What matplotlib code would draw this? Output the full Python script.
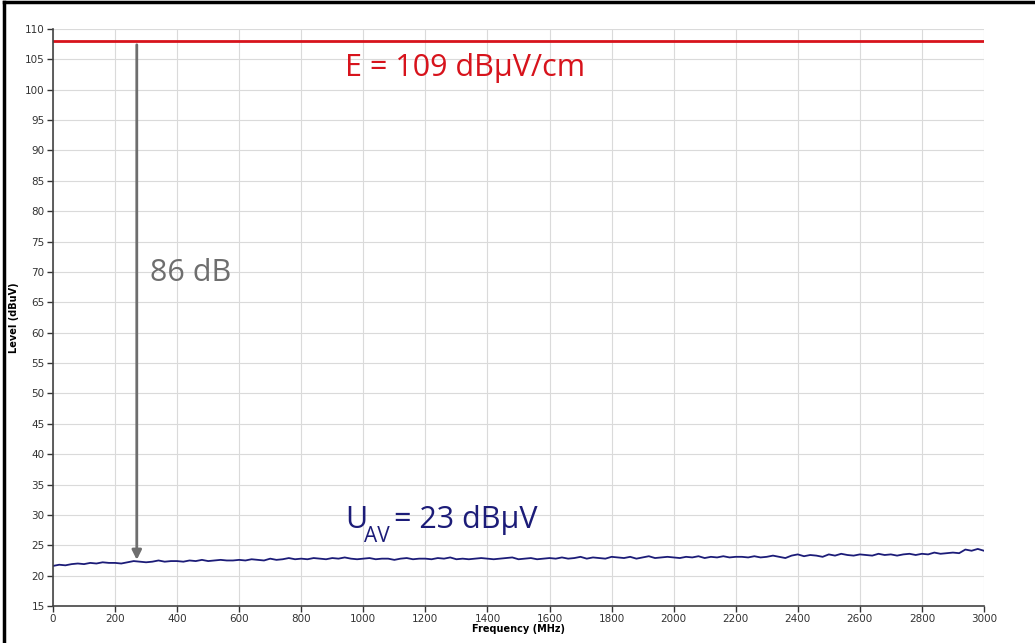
import numpy as np
import matplotlib.pyplot as plt
from matplotlib.lines import Line2D

# ── Data ──────────────────────────────────────────────────────────────────────
FREQ_STEP = 20  # MHz between trace points
trace_level = [
    21.6, 21.8, 21.7, 21.9, 22.0, 21.9, 22.1, 22.0, 22.2, 22.1, 22.1,
    22.0, 22.2, 22.4, 22.3, 22.2, 22.3, 22.5, 22.3, 22.4, 22.4,
    22.3, 22.5, 22.4, 22.6, 22.4, 22.5, 22.6, 22.5, 22.5, 22.6,
    22.5, 22.7, 22.6, 22.5, 22.8, 22.6, 22.7, 22.9, 22.7, 22.8,
    22.7, 22.9, 22.8, 22.7, 22.9, 22.8, 23.0, 22.8, 22.7, 22.8,
    22.9, 22.7, 22.8, 22.8, 22.6, 22.8, 22.9, 22.7, 22.8, 22.8,
    22.7, 22.9, 22.8, 23.0, 22.7, 22.8, 22.7, 22.8, 22.9, 22.8,
    22.7, 22.8, 22.9, 23.0, 22.7, 22.8, 22.9, 22.7, 22.8, 22.9,
    22.8, 23.0, 22.8, 22.9, 23.1, 22.8, 23.0, 22.9, 22.8, 23.1,
    23.0, 22.9, 23.1, 22.8, 23.0, 23.2, 22.9, 23.0, 23.1, 23.0,
    22.9, 23.1, 23.0, 23.2, 22.9, 23.1, 23.0, 23.2, 23.0, 23.1,
    23.1, 23.0, 23.2, 23.0, 23.1, 23.3, 23.1, 22.9, 23.3, 23.5,
    23.2, 23.4, 23.3, 23.1, 23.5, 23.3, 23.6, 23.4, 23.3, 23.5,
    23.4, 23.3, 23.6, 23.4, 23.5, 23.3, 23.5, 23.6, 23.4, 23.6,
    23.5, 23.8, 23.6, 23.7, 23.8, 23.7, 24.3, 24.1, 24.4, 24.1,
]
freqs = np.arange(len(trace_level)) * FREQ_STEP

field_level = 108.0        # red reference line
arrow_freq = 270
arrow_top, arrow_bottom = 107.4, 22.6

x_ticks = list(range(0, 3001, 200))
y_ticks = list(range(15, 111, 5))

RED = '#d7131c'
NAVY = '#1c1c78'
GRAY = '#6e6e6e'
FONT = 'Open Sans'

# ── Figure ────────────────────────────────────────────────────────────────────
fig = plt.figure(figsize=(10.35, 6.43), dpi=100)
ax = fig.add_axes([0.0512, 0.0575, 0.8995, 0.8974])

ax.plot(freqs, trace_level, color=NAVY, lw=1.3)
ax.axhline(field_level, color=RED, lw=2)
ax.annotate('', xy=(arrow_freq, arrow_bottom), xytext=(arrow_freq, arrow_top),
            arrowprops=dict(arrowstyle='-|>', color=GRAY, lw=2,
                            mutation_scale=14, shrinkA=0, shrinkB=0))

ax.text(941, 103.6, 'E = 109 dBµV/cm', color=RED, fontsize=22,
        family=FONT, va='center', ha='left')
ax.text(313, 69.8, '86 dB', color=GRAY, fontsize=22,
        family=FONT, va='center', ha='left')
# U_AV label built from pieces so the subscript sits low like the source
ax.text(941, 29.2, 'U', color=NAVY, fontsize=22, family=FONT,
        va='center', ha='left')
ax.text(1003, 26.4, 'AV', color=NAVY, fontsize=15, family=FONT,
        va='center', ha='left')
ax.text(1100, 29.2, '= 23 dBµV', color=NAVY, fontsize=22, family=FONT,
        va='center', ha='left')

ax.set_xlim(0, 3000)
ax.set_ylim(15, 110)
ax.set_xticks(x_ticks)
ax.set_yticks(y_ticks)
ax.grid(True, color='#dadada', lw=0.8)
ax.set_axisbelow(True)
for s in ['top', 'right']:
    ax.spines[s].set_visible(False)
for s in ['left', 'bottom']:
    ax.spines[s].set_color('#444444')
    ax.spines[s].set_linewidth(1.2)
ax.tick_params(labelsize=7.5, colors='#333333', length=4, width=1, pad=2)
ax.set_xlabel('Frequency (MHz)', fontsize=7, fontweight='bold', labelpad=0)
ax.set_ylabel('Level (dBuV)', fontsize=7, fontweight='bold', labelpad=4)

# outer frame (top and left edges visible in the source)
fig.add_artist(Line2D([0.004, 0.004], [0, 0.997], color='black', lw=2.5,
                      transform=fig.transFigure))
fig.add_artist(Line2D([0.004, 1], [0.997, 0.997], color='black', lw=2.5,
                      transform=fig.transFigure))

fig.savefig('out.png', dpi=100)
